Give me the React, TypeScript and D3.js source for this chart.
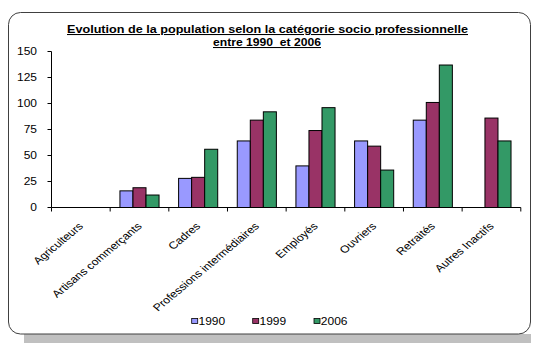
import React from "react";
import * as d3 from "d3";

const categories = [
  "Agriculteurs",
  "Artisans commerçants",
  "Cadres",
  "Professions intermédiaires",
  "Employés",
  "Ouvriers",
  "Retraités",
  "Autres Inactifs",
];
const seriesNames = ["1990", "1999", "2006"];
const values1990: (number | null)[] = [null, 16, 28, 64, 40, 64, 84, null];
const values1999: (number | null)[] = [null, 19, 29, 84, 74, 59, 101, 86];
const values2006: (number | null)[] = [null, 12, 56, 92, 96, 36, 137, 64];
const seriesColors = ["#9999FF", "#993366", "#339966"];
const yTicks = [0, 25, 50, 75, 100, 125, 150];
const titleLines = [
  "Evolution de la population selon la catégorie socio professionnelle",
  "entre 1990  et 2006",
];

const W = 533;
const H = 343;
const FONT = "'Liberation Sans', Arial, sans-serif";
const SX = 1.2;

export default function App() {
  const series = [values1990, values1999, values2006];
  const plotLeft = 51.5;
  const plotRight = 520.8;
  const plotTop = 51.5;
  const plotBottom = 207.5;

  const x0 = d3.scaleBand<string>().domain(categories).range([plotLeft, plotRight]).padding(0);
  const bw = x0.bandwidth();
  const barW = bw / 4.5;
  const x1 = d3
    .scaleBand<string>()
    .domain(seriesNames)
    .range([0.75 * barW, 3.75 * barW])
    .padding(0);
  const y = d3.scaleLinear().domain([0, 150]).range([plotBottom, plotTop]);

  const legendX = [191.7, 252.7, 314];

  return (
    <svg
      width={W}
      height={H}
      style={{ position: "absolute", left: 0, top: 0, background: "#fff" }}
      fontFamily={FONT}
    >
      <rect x={0} y={0} width={W} height={H} fill="#fff" />
      {/* shadow */}
      <rect x={24} y={334} width={507} height={9} fill="#c0c0c0" />
      {/* frame */}
      <rect
        x={8.5}
        y={12.5}
        width={522}
        height={321.5}
        rx={12}
        ry={12}
        fill="#fff"
        stroke="#404040"
        strokeWidth={1}
      />
      {/* title */}
      <text
        x={267.5}
        y={33}
        textAnchor="middle"
        fontSize={10.5}
        fontWeight="bold"
        textDecoration="underline"
        textLength={401}
        lengthAdjust="spacingAndGlyphs"
        fill="#000"
      >
        {titleLines[0]}
      </text>
      <text
        x={267}
        y={46}
        textAnchor="middle"
        fontSize={10.5}
        fontWeight="bold"
        textDecoration="underline"
        textLength={108}
        lengthAdjust="spacingAndGlyphs"
        fill="#000"
        style={{ whiteSpace: "pre" }}
      >
        {titleLines[1]}
      </text>

      {/* bars */}
      {categories.map((c, i) => (
        <g key={c} transform={`translate(${x0(c)},0)`}>
          {series.map((s, j) => {
            const v = s[i];
            if (v == null) return null;
            return (
              <rect
                key={j}
                x={x1(seriesNames[j])}
                y={y(v)}
                width={x1.bandwidth()}
                height={y(0) - y(v)}
                fill={seriesColors[j]}
                stroke="#000"
                strokeWidth={1}
              />
            );
          })}
        </g>
      ))}

      {/* y axis */}
      <line x1={plotLeft} x2={plotLeft} y1={y(150)} y2={y(0)} stroke="#000" strokeWidth={1} />
      {yTicks.map((t) => (
        <g key={t}>
          <line x1={plotLeft - 4} x2={plotLeft} y1={y(t)} y2={y(t)} stroke="#000" />
          <text
            transform={`translate(37,${y(t) + 3.5}) scale(${SX},1)`}
            textAnchor="end"
            fontSize={10}
            fill="#000"
          >
            {t}
          </text>
        </g>
      ))}

      {/* x axis */}
      <line x1={plotLeft} x2={plotRight} y1={y(0)} y2={y(0)} stroke="#000" strokeWidth={1} />
      {[...categories.map((c) => x0(c) as number), plotRight].map((xv, i) => (
        <line key={i} x1={xv} x2={xv} y1={y(0)} y2={y(0) + 4} stroke="#000" />
      ))}
      {categories.map((c) => {
        const cx = (x0(c) as number) + bw / 2 + 3;
        return (
          <text
            key={c}
            transform={`translate(${cx},227) scale(${SX},1) rotate(-45)`}
            textAnchor="end"
            fontSize={10.2}
            fill="#000"
          >
            {c}
          </text>
        );
      })}

      {/* legend */}
      {seriesNames.map((n, j) => (
        <g key={n}>
          <rect
            x={legendX[j]}
            y={318.5}
            width={6}
            height={5}
            fill={seriesColors[j]}
            stroke="#000"
            strokeWidth={0.8}
          />
          <text
            transform={`translate(${legendX[j] + 6.8},324.5) scale(${SX},1)`}
            fontSize={10}
            fill="#000"
          >
            {n}
          </text>
        </g>
      ))}
    </svg>
  );
}
